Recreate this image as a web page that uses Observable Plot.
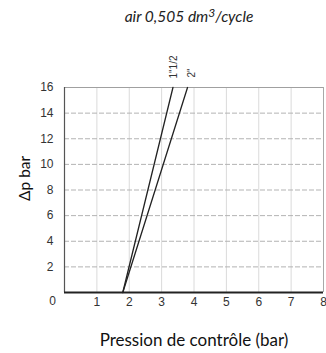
<!DOCTYPE html>
<html>
<head>
<meta charset="utf-8">
<script src="https://cdn.jsdelivr.net/npm/d3@7"></script>
<script src="https://cdn.jsdelivr.net/npm/@observablehq/plot@0.6"></script>
<style>
  body { margin: 0; background: #fff; }
  #title { height: 34px; width: 326px; box-sizing: border-box; padding-left: 52px; text-align: center;
    font-family: Lato, "Open Sans", sans-serif; font-style: italic; font-size: 15.5px; line-height: 32px; color: #222; }
  #title sup { font-size: 12px; vertical-align: 5px; line-height: 0; }
</style>
</head>
<body>
<div id="title">air 0,505 dm<sup>3</sup>/cycle</div>
<div id="chart"></div>
<script>
// Data
const seriesNames = ['1"1/2', '2"'];
const pressure15 = [1.8, 3.35];   // control pressure (bar) for 1"1/2
const deltaP15   = [0, 16];
const pressure2  = [1.8, 3.8];    // control pressure (bar) for 2"
const deltaP2    = [0, 16];
const xTicks = [1, 2, 3, 4, 5, 6, 7, 8];
const yTicks = [2, 4, 6, 8, 10, 12, 14, 16];
const xGrid = [1, 2, 3, 4, 5, 6, 7];
const yGrid = [2, 4, 6, 8, 10, 12, 14];

const lines = [
  ...pressure15.map((p, i) => ({series: seriesNames[0], p, dp: deltaP15[i]})),
  ...pressure2.map((p, i) => ({series: seriesNames[1], p, dp: deltaP2[i]}))
];

const chart = Plot.plot({
  width: 326,
  height: 319,
  marginTop: 53,
  marginBottom: 61,
  marginLeft: 64,
  marginRight: 3,
  style: {fontFamily: "'Liberation Sans', Arial, sans-serif", fontSize: "12px", color: "#333", background: "#fff"},
  x: {domain: [0, 8]},
  y: {domain: [0, 16]},
  marks: [
    Plot.ruleX(xGrid, {stroke: "#dadada", strokeWidth: 1}),
    Plot.ruleY(yGrid, {stroke: "#b3b3b3", strokeWidth: 1, strokeDasharray: "5,2"}),
    Plot.ruleY([16], {stroke: "#a0a0a0", strokeWidth: 1}),
    Plot.ruleX([8], {stroke: "#a8a8a8", strokeWidth: 1}),
    Plot.ruleX([0], {stroke: "#555", strokeWidth: 1.2}),
    Plot.ruleY([0], {stroke: "#222", strokeWidth: 1.8}),
    Plot.axisX(xTicks, {tickSize: 0, tickPadding: 5, fontSize: 12, label: null, fill: "#333"}),
    Plot.text([0], {x: d => d, y: d => d, text: d => String(d), dx: -12, dy: 9, fontSize: 12, fill: "#333"}),
    Plot.axisY(yTicks, {tickSize: 0, tickPadding: 11, fontSize: 12, label: null, fill: "#333"}),
    Plot.line(lines, {x: "p", y: "dp", z: "series", stroke: "#222", strokeWidth: 1.3}),
    Plot.text([{t: seriesNames[0], p: pressure15[1], dp: deltaP15[1]}],
      {x: "p", y: "dp", text: "t", rotate: -90, textAnchor: "start", dx: 0.5, dy: -9, fontSize: 10, fill: "#333"}),
    Plot.text([{t: seriesNames[1], p: pressure2[1], dp: deltaP2[1]}],
      {x: "p", y: "dp", text: "t", rotate: -90, textAnchor: "start", dx: 4, dy: -10, fontSize: 10, fill: "#333"}),
    Plot.text(["Pression de contrôle (bar)"], {frameAnchor: "bottom", text: d => d, dy: 53, fontSize: 17,
      fontFamily: "Lato, 'Open Sans', sans-serif", fill: "#111"}),
    Plot.text(["Δp bar"], {frameAnchor: "left", text: d => d, rotate: -90, dx: -39, dy: 11, fontSize: 15.5,
      fontFamily: "Lato, 'Open Sans', sans-serif", fill: "#111"})
  ]
});
document.getElementById("chart").appendChild(chart);
</script>
</body>
</html>
